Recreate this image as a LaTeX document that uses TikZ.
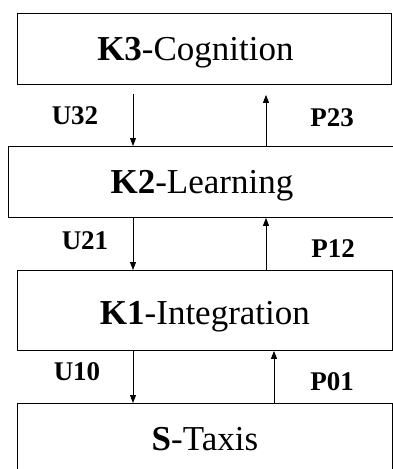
\documentclass[tikz,border=0pt]{standalone}
\usepackage{fontspec}
\setmainfont{Liberation Serif}
\usetikzlibrary{arrows.meta}
\tikzset{
  level/.style={draw, line width=0.9pt, inner sep=0pt, anchor=north west,
    text depth=0pt, font=\fontsize{35}{40}\selectfont},
  flow/.style={line width=0.9pt, -{Triangle[width=6pt,length=8pt]}},
  tag/.style={inner sep=0pt, font=\fontsize{27}{30}\selectfont\bfseries},
}
\begin{document}
\begin{tikzpicture}[x=1pt,y=-1pt]
\useasboundingbox (0,0) rectangle (392,469);
% the four levels, top to bottom
\node[level, minimum width=374pt, minimum height=71pt] (k3) at (17,13) {\textbf{K3}-Cognition\hspace*{18pt}};
\node[level, minimum width=387pt, minimum height=71pt] (k2) at (8,146) {\textbf{K2}-Learning};
\node[level, minimum width=375pt, minimum height=80pt] (k1) at (17,270) {\raisebox{-4pt}{\textbf{K1}-Integration}};
\node[level, minimum width=375pt, minimum height=70pt] (s) at (17,403) {\textbf{S}-Taxis};
% reference columns for the vertical connectors
\coordinate (dn) at (133,0);
\coordinate (up) at (266,0);
\coordinate (up0) at (274,0);
% downward (U) and upward (P) flows
\draw[flow, shorten <=9pt] (k3.south -| dn) -- (k2.north -| dn);
\draw[flow, shorten >=10pt] (k2.north -| up) -- (k3.south -| up);
\draw[flow] (k2.south -| dn) -- (k1.north -| dn);
\draw[flow] (k1.north -| up) -- (k2.south -| up);
\draw[flow] (k1.south -| dn) -- (s.north -| dn);
\draw[flow] (s.north -| up0) -- (k1.south -| up0);
% flow labels
\node[tag] (u32) at (75,116) {U32};
\node[tag] (p23) at (332,118) {P23};
\node[tag] (u21) at (85,241) {U21};
\node[tag] (p12) at (333,249) {P12};
\node[tag] (u10) at (77,372) {U10};
\node[tag] (p01) at (332,382) {P01};
\end{tikzpicture}
\end{document}
